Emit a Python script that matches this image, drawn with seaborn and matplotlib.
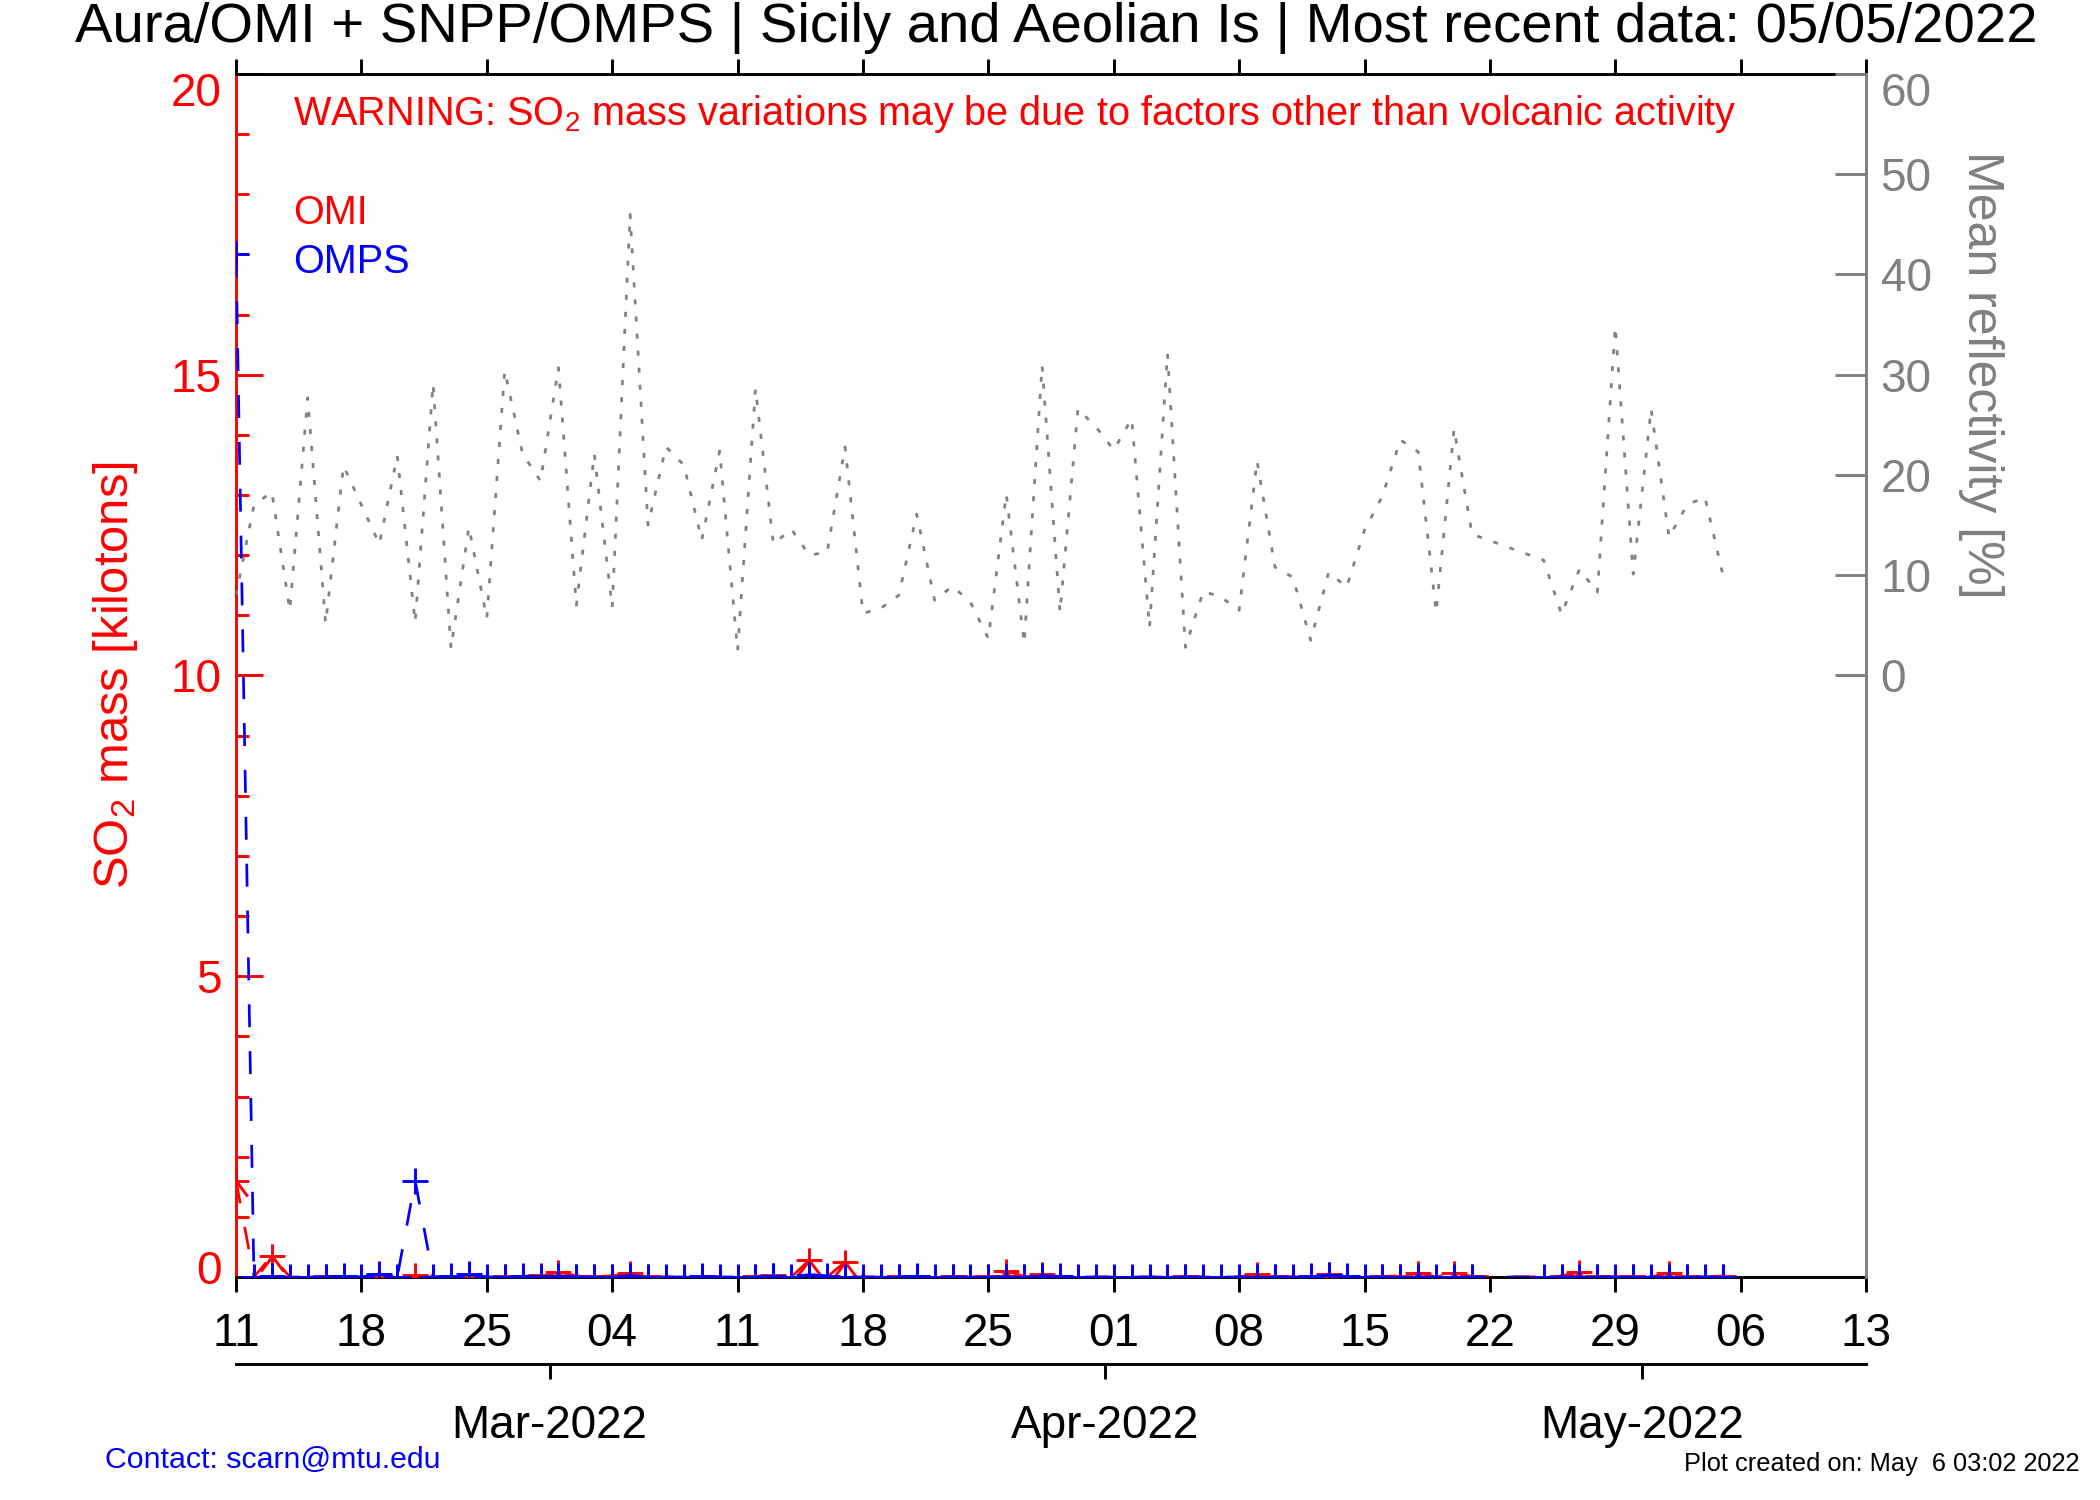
import numpy as np
import pandas as pd
import matplotlib
matplotlib.use('Agg')
import matplotlib.pyplot as plt
import matplotlib.dates as mdates
from matplotlib.path import Path
from matplotlib.ticker import MultipleLocator
from matplotlib.transforms import ScaledTranslation
import seaborn as sns

sns.set_theme(style='ticks')
plt.rcParams['font.family'] = ['Liberation Sans', 'DejaVu Sans']
plt.rcParams['mathtext.default'] = 'regular'
plt.rcParams['lines.scale_dashes'] = False

nan = np.nan

# daily series, 11 Feb 2022 .. 05 May 2022 (NaN = no data)
start_date = '2022-02-11'
end_date = '2022-05-05'

# OMPS SO2 mass [kt]
omps_so2 = [17.0, 0.00, 0.01, 0.00, 0.00, 0.00, 0.01, 0.00, 0.05, 0.00,
            1.60, 0.00, 0.01, 0.05, 0.00, 0.00, 0.01, 0.00, 0.01, 0.00,
            0.00, 0.00, 0.02, 0.00, 0.00, 0.00, 0.01, 0.00, 0.00, 0.00,
            0.01, 0.00, 0.04, 0.02, 0.00, 0.00, 0.00, 0.00, 0.01, 0.00,
            0.00, 0.00, 0.00, 0.00, 0.00, 0.02, 0.01, 0.00, 0.00, 0.00,
            0.00, 0.00, 0.00, 0.00, 0.00, 0.00, 0.00, 0.00, 0.00, 0.00,
            0.01, 0.03, 0.01, 0.00, 0.00, 0.00, 0.00, 0.00, 0.00, 0.00,
            nan, nan, nan, 0.00, 0.00, 0.00, 0.00, 0.00, 0.00, 0.00,
            0.00, 0.00, 0.00, 0.00]

# OMI SO2 mass [kt]
omi_so2 = [1.60, 0.00, 0.35, 0.00, 0.00, 0.01, 0.01, 0.00, 0.02, 0.00,
           0.03, 0.00, 0.00, 0.02, 0.00, 0.01, 0.01, 0.03, 0.08, 0.02,
           0.01, 0.02, 0.06, 0.01, 0.00, 0.00, 0.01, 0.00, 0.00, 0.01,
           0.03, 0.00, 0.28, 0.00, 0.25, 0.00, 0.00, 0.01, 0.01, 0.00,
           0.01, 0.00, 0.02, 0.10, 0.01, 0.05, 0.00, 0.00, 0.00, 0.00,
           0.00, 0.00, 0.00, 0.01, 0.00, 0.00, 0.00, 0.05, 0.01, 0.00,
           0.01, 0.05, 0.00, 0.00, 0.01, 0.02, 0.07, 0.00, 0.06, 0.01,
           nan, nan, nan, 0.00, 0.02, 0.08, 0.02, 0.00, 0.01, 0.00,
           0.07, 0.01, 0.00, 0.02]

# mean reflectivity [%]
reflectivity = [8.0, 17.0, 18.3, 6.5, 27.7, 5.2, 20.9, 17.0, 13.1, 21.9,
                5.3, 29.1, 2.7, 14.8, 5.7, 30.4, 22.1, 19.4, 30.7, 7.0,
                22.1, 6.8, 46.0, 15.0, 22.8, 21.0, 13.5, 22.4, 2.5, 28.6,
                13.1, 14.6, 12.0, 12.3, 22.8, 6.2, 6.7, 8.0, 16.1, 7.5,
                8.9, 7.3, 3.7, 18.1, 3.2, 30.9, 6.3, 26.6, 24.8, 22.5,
                25.6, 4.8, 32.1, 2.8, 8.4, 7.8, 6.5, 21.4, 10.8, 9.8,
                3.5, 10.3, 8.8, 14.5, 17.9, 23.5, 22.3, 6.3, 24.6, 14.1,
                nan, nan, nan, 11.5, 6.1, 10.6, 8.3, 34.8, 10.1, 26.6,
                13.8, 17.0, 17.8, 10.1]

so2_ticks = [0, 5, 10, 15, 20]
refl_ticks = [0, 10, 20, 30, 40, 50, 60]

dates = pd.date_range(start_date, end_date, freq='D')
df = pd.DataFrame({'date': dates, 'omps': omps_so2, 'omi': omi_so2, 'refl': reflectivity})

# "木"-like asterisk used for OMI
star = Path([(0, -1), (0, 0.8), (-0.85, 0), (0.85, 0), (0, 0), (-0.75, -1), (0, 0), (0.75, -1)],
            [Path.MOVETO, Path.LINETO, Path.MOVETO, Path.LINETO,
             Path.MOVETO, Path.LINETO, Path.MOVETO, Path.LINETO])

fig = plt.figure(figsize=(14, 10), dpi=150)
ax = fig.add_axes([0.1124, 0.1487, 0.7762, 0.802])

sns.lineplot(data=df.dropna(subset=['omi']), x='date', y='omi', ax=ax, color='red', errorbar=None,
             linestyle=(0, (11, 11.5)), linewidth=1.3, marker=star, markersize=14.5,
             markerfacecolor='none', markeredgecolor='red', markeredgewidth=1.4, zorder=3)
sns.lineplot(data=df.dropna(subset=['omps']), x='date', y='omps', ax=ax, color='blue', errorbar=None,
             linestyle=(0, (11, 11.5)), linewidth=1.3, marker='+', markersize=12.5,
             markeredgecolor='blue', markeredgewidth=1.4, zorder=4)

x0, x1 = pd.Timestamp('2022-02-11'), pd.Timestamp('2022-05-13')
ax.set_xlim(x0, x1)
ax.set_ylim(0, 20)
ax.set_yticks(so2_ticks)
ax.yaxis.set_minor_locator(MultipleLocator(1))
ax.xaxis.set_major_locator(mdates.WeekdayLocator(byweekday=mdates.FR))
ax.xaxis.set_major_formatter(mdates.DateFormatter('%d'))
ax.tick_params(axis='y', which='major', direction='in', length=13, width=1.4,
               colors='red', labelsize=22, pad=7, left=True)
ax.tick_params(axis='y', which='minor', direction='in', length=6, width=1.4,
               colors='red', left=True)
ax.tick_params(axis='x', which='major', direction='out', length=7, width=1.4,
               colors='black', labelsize=22, pad=10, bottom=True, top=True, labeltop=False)
for s in ['left', 'top', 'bottom']:
    ax.spines[s].set_linewidth(1.4)
ax.spines['left'].set_color('red')
ax.spines['top'].set_color('black')
ax.spines['bottom'].set_color('black')
ax.spines['right'].set_visible(False)
ax.set_xlabel('')
ax.set_ylabel('SO$_2$ mass [kilotons]', color='red', fontsize=23.5, rotation=90,
              ha='center', va='center')
ax.yaxis.set_label_coords(-0.074, 0.5)

# reflectivity on the right axis
ax_r = ax.twinx()
sns.lineplot(data=df.dropna(subset=['refl']), x='date', y='refl', ax=ax_r, color='#808080',
             errorbar=None, linestyle=(0, (2.4, 5.8)), linewidth=1.3)
ax_r.set_ylim(-60, 60)
ax_r.set_yticks(refl_ticks)
ax_r.tick_params(axis='y', direction='in', length=15, width=1.4, colors='#808080',
                 labelsize=22, pad=7, right=True)
for s in ['left', 'top', 'bottom']:
    ax_r.spines[s].set_visible(False)
ax_r.spines['right'].set_color('#808080')
ax_r.spines['right'].set_linewidth(1.4)
ax_r.set_xlabel('')
ax_r.set_ylabel('Mean reflectivity [%]', color='#808080', fontsize=24)
ax_r.yaxis.label.set_rotation(-90)
ax_r.yaxis.label.set_rotation_mode('anchor')
ax_r.yaxis.label.set_va('center')
ax_r.yaxis.label.set_ha('center')
ax_r.yaxis.set_label_coords(1.0706, 0.75)

# keep end labels inside the frame, as in the original
down = ScaledTranslation(0, -7 / 72, fig.dpi_scale_trans)
up = ScaledTranslation(0, 5 / 72, fig.dpi_scale_trans)
yt = ax.yaxis.get_major_ticks()
yt[0].label1.set_transform(yt[0].label1.get_transform() + up)
yt[-1].label1.set_transform(yt[-1].label1.get_transform() + down)
rt = ax_r.yaxis.get_major_ticks()
rt[-1].label2.set_transform(rt[-1].label2.get_transform() + down)

# month axis below
ax_m = fig.add_axes([0.1124, 0.0907, 0.7762, 0.0])
ax_m.set_xlim(x0 + pd.Timedelta(hours=12), x1 + pd.Timedelta(hours=12))
ax_m.patch.set_visible(False)
for s in ['left', 'top', 'right']:
    ax_m.spines[s].set_visible(False)
ax_m.spines['bottom'].set_linewidth(1.4)
ax_m.spines['bottom'].set_color('black')
ax_m.set_yticks([])
ax_m.xaxis.set_major_locator(mdates.MonthLocator())
ax_m.xaxis.set_major_formatter(mdates.DateFormatter('%b-%Y'))
ax_m.tick_params(axis='x', direction='out', length=7, width=1.4, colors='black',
                 labelsize=22, pad=12, bottom=True)

fig.text(0.503, 0.981, 'Aura/OMI + SNPP/OMPS | Sicily and Aeolian Is | Most recent data: 05/05/2022',
         ha='center', va='center', fontsize=27, color='black')
fig.text(0.1395, 0.924, 'WARNING: SO$_2$ mass variations may be due to factors other than volcanic activity',
         ha='left', va='center', fontsize=19, color='red')
fig.text(0.1395, 0.858, 'OMI', ha='left', va='center', fontsize=19, color='red')
fig.text(0.1395, 0.8253, 'OMPS', ha='left', va='center', fontsize=19, color='blue')
fig.text(0.05, 0.0267, 'Contact: scarn@mtu.edu', ha='left', va='center', fontsize=14.5, color='blue')
fig.text(0.990, 0.024, 'Plot created on: May  6 03:02 2022', ha='right', va='center',
         fontsize=12.2, color='black')

fig.savefig('out.png', dpi=150)
plt.close(fig)
